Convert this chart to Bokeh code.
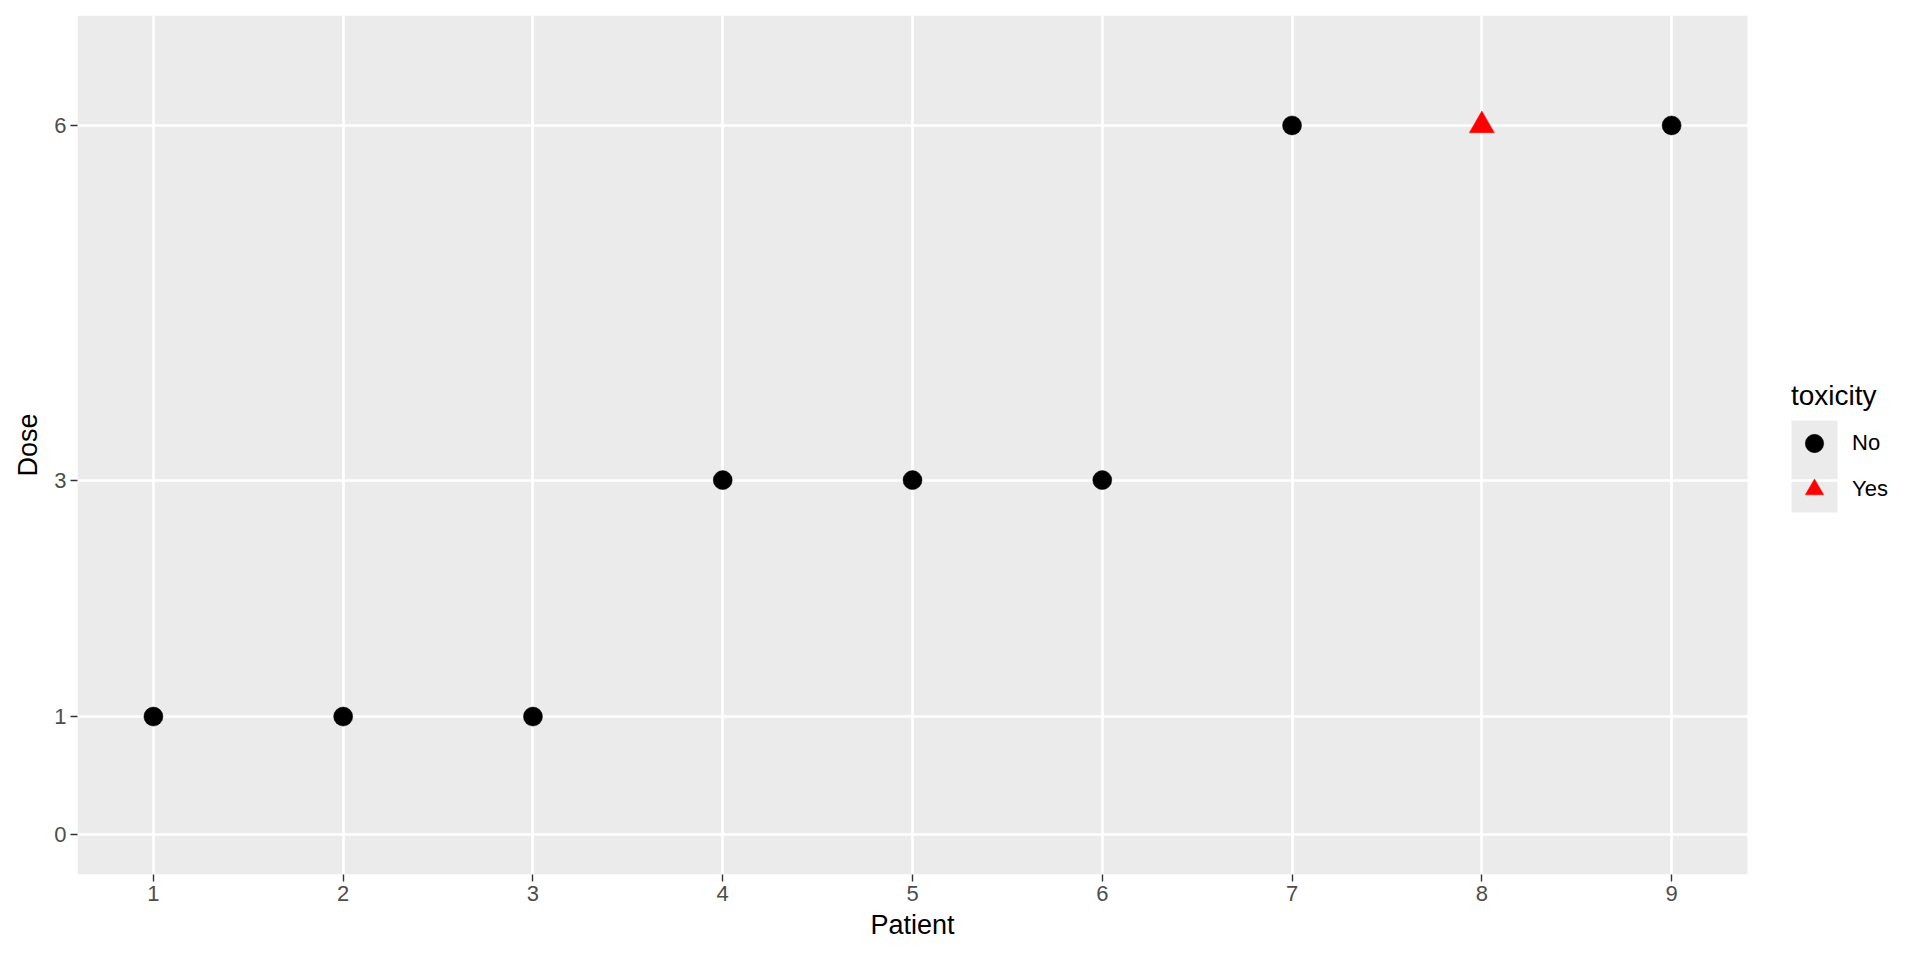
from bokeh.plotting import figure
from bokeh.models import (ColumnDataSource, FixedTicker, Range1d, Legend, LegendItem,
                          BoxAnnotation, Title)
from bokeh.transform import factor_cmap, factor_mark
from bokeh.embed import file_html
from bokeh.resources import INLINE

patient = [1, 2, 3, 4, 5, 6, 7, 8, 9]
dose = [1, 1, 1, 3, 3, 3, 6, 6, 6]
toxicity = ["No", "No", "No", "No", "No", "No", "No", "Yes", "No"]
levels = ["No", "Yes"]
x_ticks = [1, 2, 3, 4, 5, 6, 7, 8, 9]
y_ticks = [0, 1, 3, 6]

FONT = "Liberation Sans"

# layout (pixels)
W, H = 1912, 952
LEFT, TOP, BOTTOM = 77, 15, 78
PANEL_W = 1670                    # grey panel width
FRAME_W = W - LEFT                # frame extends to the right edge (legend lives in it)
FRAME_H = H - TOP - BOTTOM
X0, X1 = 0.6, 9.4
Y0, Y1 = -0.336, 6.93
px = (X1 - X0) / PANEL_W          # data units per pixel
x_end = X0 + FRAME_W * px
py = (Y1 - Y0) / FRAME_H

src = ColumnDataSource(dict(patient=patient, dose=dose, toxicity=toxicity,
                            size=[25 if t == "Yes" else 19 for t in toxicity]))

p = figure(width=W, height=H, output_backend="svg", toolbar_location=None,
           x_range=Range1d(X0, x_end), y_range=Range1d(Y0, Y1),
           min_border_left=LEFT, min_border_top=TOP, min_border_bottom=BOTTOM,
           min_border_right=0)

p.background_fill_color = "white"
p.border_fill_color = "white"
p.outline_line_color = None

# grey panel behind grid
p.add_layout(BoxAnnotation(left=X0, right=X1, bottom=Y0, top=Y1,
                           fill_color="#EBEBEB", fill_alpha=1, line_color=None,
                           level="image"))

r = p.scatter("patient", "dose", source=src, size="size",
              marker=factor_mark("toxicity", ["circle", "triangle"], levels),
              fill_color=factor_cmap("toxicity", ["black", "red"], levels),
              line_color=factor_cmap("toxicity", ["black", "red"], levels),
              line_width=0.5)

for ax, ticks in ((p.xaxis, x_ticks), (p.yaxis, y_ticks)):
    ax.ticker = FixedTicker(ticks=ticks)
    ax.axis_line_color = None
    ax.major_tick_line_color = "#333333"
    ax.major_tick_line_width = 1.4
    ax.major_tick_out = 7
    ax.major_tick_in = 0
    ax.minor_tick_line_color = None
    ax.major_label_text_font = FONT
    ax.major_label_text_font_size = "22px"
    ax.major_label_text_color = "#4D4D4D"
    ax.major_label_standoff = 4
    ax.axis_label_text_font = FONT
    ax.axis_label_text_font_size = "27px"
    ax.axis_label_text_font_style = "normal"
    ax.axis_label_text_color = "black"

p.yaxis.axis_label = "Dose"
p.yaxis.axis_label_standoff = 8

# x title, centred under the grey panel (not the wider frame)
TITLE_W = 84  # approx. rendered width of "Patient" at 27px
p.add_layout(Title(text="Patient", align="left", offset=PANEL_W / 2 - TITLE_W / 2,
                   text_font=FONT, text_font_size="27px", text_font_style="normal",
                   text_color="black", standoff=8), "below")

for g, ticks in ((p.xgrid, x_ticks), (p.ygrid, y_ticks)):
    g.ticker = FixedTicker(ticks=ticks)
    g.grid_line_color = "white"
    g.grid_line_width = 2.7
    g.minor_grid_line_color = None

# legend key background (grey), placed by pixel offsets converted to data units
KEY_L, KEY_R = 1791 - LEFT, 1837 - LEFT
KEY_T, KEY_B = 420 - TOP, 512 - TOP
p.add_layout(BoxAnnotation(left=X0 + KEY_L * px, right=X0 + KEY_R * px,
                           top=Y1 - KEY_T * py, bottom=Y1 - KEY_B * py,
                           fill_color="#EBEBEB", fill_alpha=1, line_color=None,
                           level="image"))

legend = Legend(items=[LegendItem(label="No", renderers=[r], index=0),
                       LegendItem(label="Yes", renderers=[r], index=7)],
                location=(1791 - LEFT, 874 - 512), title="toxicity")
legend.padding = 0
legend.margin = 0
legend.spacing = 0
legend.border_line_color = None
legend.background_fill_alpha = 0
legend.glyph_width = 46
legend.glyph_height = 46
legend.label_standoff = 15
legend.label_text_font = FONT
legend.label_text_font_size = "22px"
legend.label_text_color = "black"
legend.label_height = 46
legend.title_text_font = FONT
legend.title_text_font_size = "28px"
legend.title_text_font_style = "normal"
legend.title_text_color = "black"
legend.title_standoff = 8
p.add_layout(legend, "center")

open("out.html", "w").write(file_html(p, INLINE))
